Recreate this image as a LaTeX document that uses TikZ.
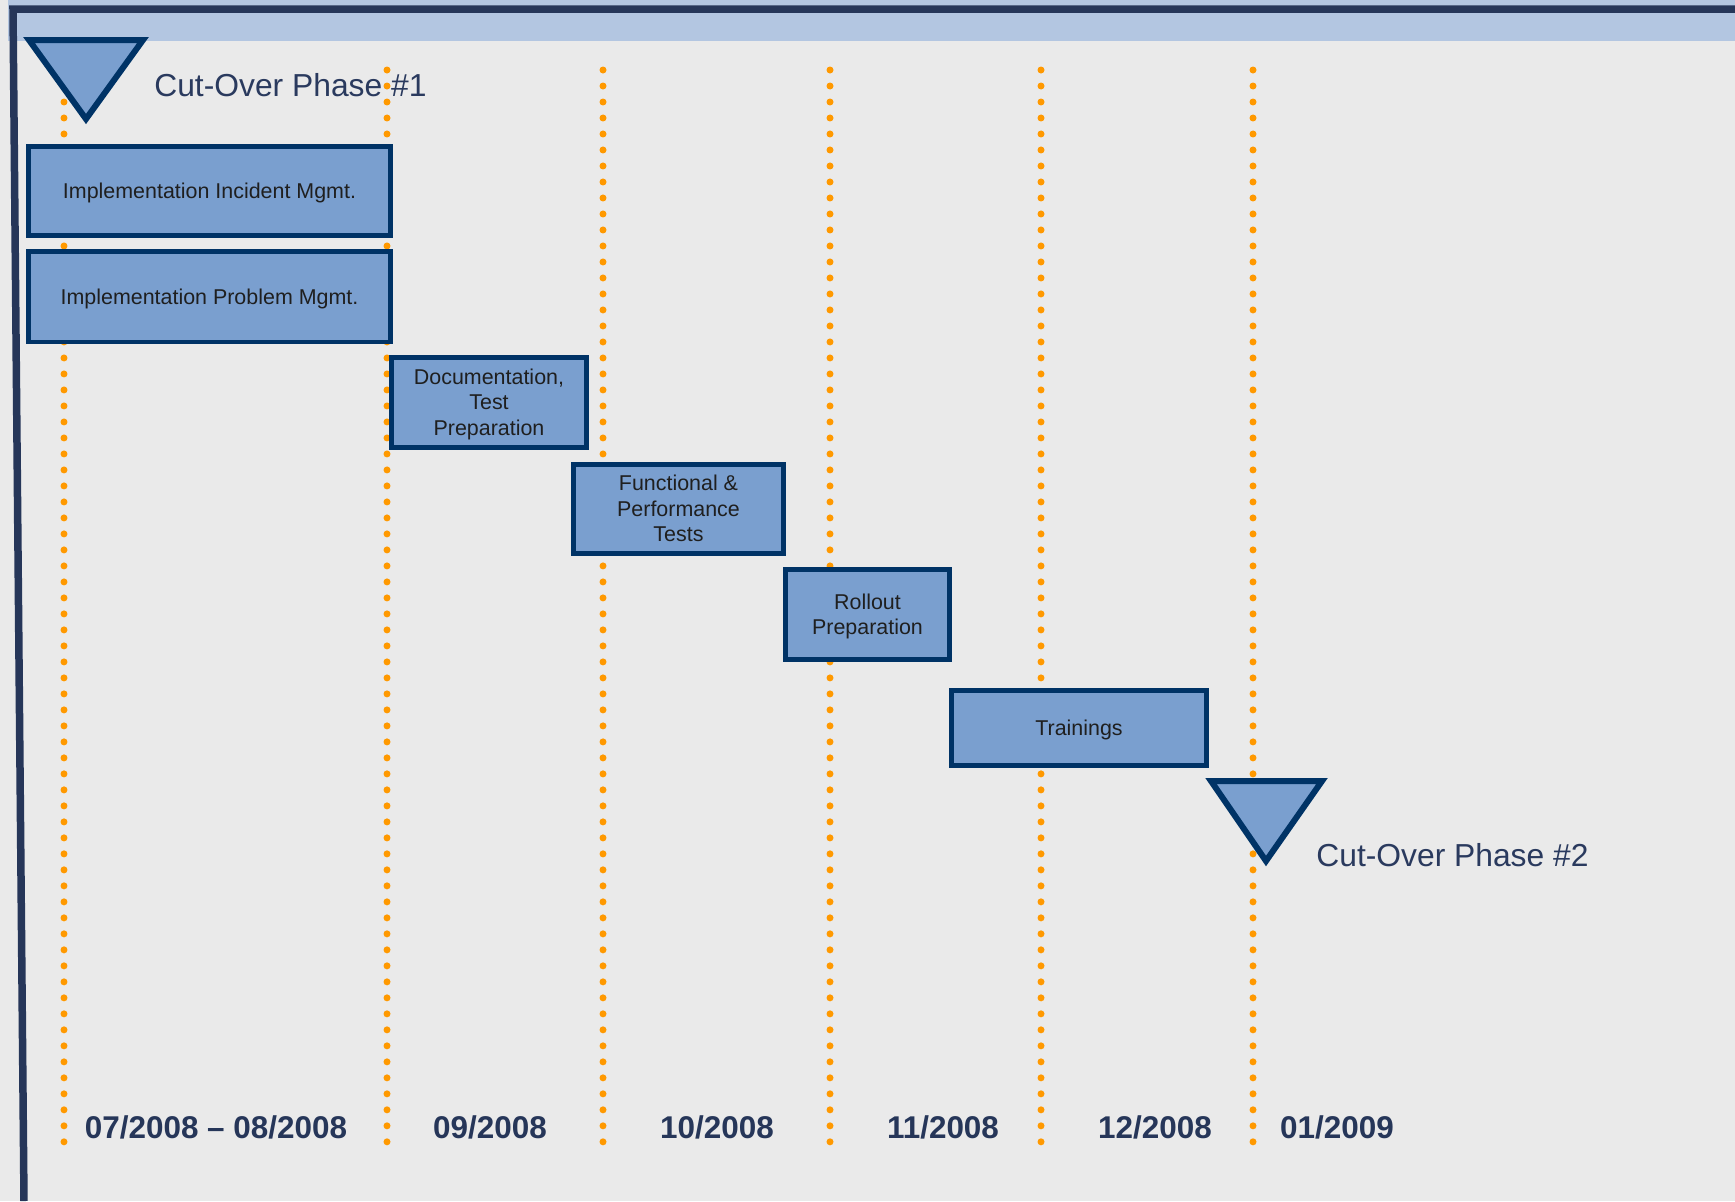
\documentclass[tikz,border=0pt]{standalone}
\usepackage{fontspec}
\setmainfont{Liberation Sans}
\usetikzlibrary{positioning}
\definecolor{bggrey}{RGB}{234,234,234}
\definecolor{bandblue}{RGB}{179,198,225}
\definecolor{framenavy}{RGB}{38,54,89}
\definecolor{taskfill}{RGB}{122,159,207}
\definecolor{tasknavy}{RGB}{0,51,102}
\definecolor{dotorange}{RGB}{255,153,0}
\definecolor{labelnavy}{RGB}{42,58,94}
\tikzset{
  task/.style={draw=tasknavy, fill=taskfill, line width=0.1cm, align=center, inner sep=0pt,
    text depth=0pt, font=\fontsize{12.2}{14.4}\selectfont, text=black!88},
  milestone/.style={draw=tasknavy, fill=taskfill, line width=0.12cm, line join=miter},
  monthline/.style={dotorange, line width=0.14cm, line cap=round, dash pattern=on 0pt off 0.32cm},
  month/.style={font=\fontsize{17.9}{20}\selectfont\bfseries, text=framenavy, anchor=base, inner sep=0pt},
  phase/.style={font=\fontsize{18.1}{20}\selectfont, text=labelnavy, anchor=base west, inner sep=0pt}
}
\begin{document}
\begin{tikzpicture}[x=0.02cm, y=-0.02cm]
  \useasboundingbox (0,0) rectangle (1735,1201);
  \fill[bggrey] (0,0) rectangle (1735,1201);
  \fill[bandblue] (8,0) rectangle (1735,41);
  \draw[framenavy, line width=0.15cm, line join=miter] (1735,9) -- (13,9) -- (24,1201);
  % Month borders
  \foreach \x in {64,387,603,830,1041,1253}
    \draw[monthline] (\x,70) -- (\x,1150);
  % Cut-over milestones
  \draw[milestone] (29,40) -- (143,40) -- (86,119) -- cycle;
  \node[phase] (cut1) at (154,96) {Cut-Over Phase \#1};
  \draw[milestone] (1211,781) -- (1322,781) -- (1266,861) -- cycle;
  \node[phase] (cut2) at (1316,866) {Cut-Over Phase \#2};
  % Tasks
  \node[task, minimum width=7.26cm, minimum height=1.8cm] (incident) at (209.5,191) {Implementation Incident Mgmt.};
  \node[task, minimum width=7.26cm, minimum height=1.82cm] (problem) at (209.5,296.5) {Implementation Problem Mgmt.};
  \node[task, minimum width=3.92cm, minimum height=1.8cm] (docu) at (489,402) {Documentation,\\Test\\Preparation};
  \node[task, minimum width=4.22cm, minimum height=1.78cm] (tests) at (678.5,508.5) {Functional \&\\Performance\\Tests};
  \node[task, minimum width=3.3cm, minimum height=1.8cm] (rollout) at (867.5,614) {Rollout\\Preparation};
  \node[task, minimum width=5.12cm, minimum height=1.5cm] (trainings) at (1079,727.5) {Trainings};
  % Months
  \node[month] (m78) at (216,1138) {07/2008 -- 08/2008};
  \node[month] (m09) at (490,1138) {09/2008};
  \node[month] (m10) at (717,1138) {10/2008};
  \node[month] (m11) at (943,1138) {11/2008};
  \node[month] (m12) at (1155,1138) {12/2008};
  \node[month] (m01) at (1337,1138) {01/2009};
\end{tikzpicture}
\end{document}
